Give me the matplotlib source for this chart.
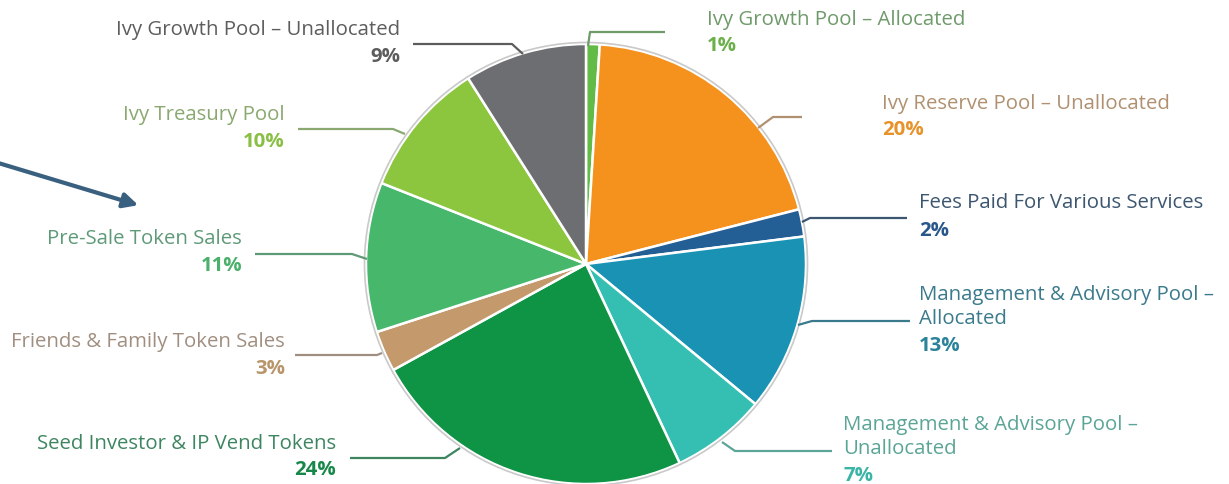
"""Token allocation pie chart with leader-line labels."""

import matplotlib
matplotlib.use("Agg")
import matplotlib.pyplot as plt
from matplotlib.patches import Circle, FancyArrowPatch

# ---- data -------------------------------------------------------------
names = [
    "Ivy Growth Pool \u2013 Allocated",
    "Ivy Reserve Pool \u2013 Unallocated",
    "Fees Paid For Various Services",
    "Management & Advisory Pool \u2013\nAllocated",
    "Management & Advisory Pool \u2013\nUnallocated",
    "Seed Investor & IP Vend Tokens",
    "Friends & Family Token Sales",
    "Pre-Sale Token Sales",
    "Ivy Treasury Pool",
    "Ivy Growth Pool \u2013 Unallocated",
]
shares = [1, 20, 2, 13, 7, 24, 3, 11, 10, 9]

wedge_colors = ["#62bb46", "#f5921e", "#235f94", "#1a92b4", "#35bfb2",
                "#0e9444", "#c49a6c", "#47b86b", "#8cc63f", "#6d6e71"]
name_colors = ["#6f9a6a", "#b09070", "#3d5670", "#3a7a8c", "#5aa596",
               "#3d8560", "#a08f80", "#5f9a78", "#8aa870", "#5d5d5d"]
pct_colors = ["#6cb04a", "#e8922a", "#28578a", "#2a839a", "#3ab5a5",
              "#17884a", "#b8956a", "#4ab06a", "#8abf45", "#5d5d5d"]

# ---- layout (pixel coords, y down) -------------------------------------
W, H = 1229, 484
CENTER = (586, 264)
RADIUS = 220
LINE_GAP = 24.5

# (x, y of first name line, y of percent, alignment)
label_layout = [
    (707, 20, 46, "left"),
    (882, 104, 130, "left"),
    (919, 203, 231, "left"),
    (919, 295, 346, "left"),
    (843, 425, 476, "left"),
    (336, 444, 470, "right"),
    (285, 342, 369, "right"),
    (242, 239, 266, "right"),
    (285, 115, 142, "right"),
    (400, 30, 57, "right"),
]
leaders = [
    [(588, 46), (590, 32), (665, 32)],
    [(758, 128), (773, 117), (802, 117)],
    [(802, 222), (810, 218), (907, 218)],
    [(798, 325), (812, 321), (910, 321)],
    [(722, 442), (735, 451), (832, 451)],
    [(460, 448), (445, 458), (350, 458)],
    [(382, 353), (377, 355), (295, 355)],
    [(367, 259), (352, 254), (255, 254)],
    [(405, 134), (393, 129), (298, 129)],
    [(523, 54), (512, 44), (413, 44)],
]

plt.rcParams["font.family"] = ["Open Sans", "DejaVu Sans"]
FS = 14.7

fig = plt.figure(figsize=(W / 100, H / 100), dpi=100)
ax = fig.add_axes([0, 0, 1, 1])

# y axis is inverted below, so start at -90 and go "counterclock" to run
# clockwise from 12 o'clock on screen
ax.pie(
    shares,
    colors=wedge_colors,
    startangle=-90,
    counterclock=True,
    center=CENTER,
    radius=RADIUS,
    wedgeprops=dict(edgecolor="white", linewidth=1.8),
)
ax.add_patch(Circle(CENTER, RADIUS + 1.5, fill=False, edgecolor="#c9c9c9",
                    linewidth=1.2, zorder=3))

for name, share, (x, y, py, ha), pts, nc, pc in zip(
        names, shares, label_layout, leaders, name_colors, pct_colors):
    xs, ys = zip(*pts)
    ax.plot(xs, ys, color=nc, linewidth=1.6, solid_capstyle="butt", zorder=4)
    for i, line in enumerate(name.split("\n")):
        ax.text(x, y + i * LINE_GAP, line, color=nc, fontsize=FS,
                ha=ha, va="center")
    ax.text(x, py, f"{share}%", color=pc, fontsize=FS, fontweight="bold",
            ha=ha, va="center")

# pointer arrow on the left
ax.add_patch(FancyArrowPatch((-5, 162), (141, 206), arrowstyle="-|>",
                             mutation_scale=22, color="#3a6080",
                             linewidth=3, zorder=5))

ax.set_xlim(0, W)
ax.set_ylim(H, 0)
ax.set_aspect("equal")
ax.axis("off")

fig.savefig("out.png", dpi=100, facecolor="white")
